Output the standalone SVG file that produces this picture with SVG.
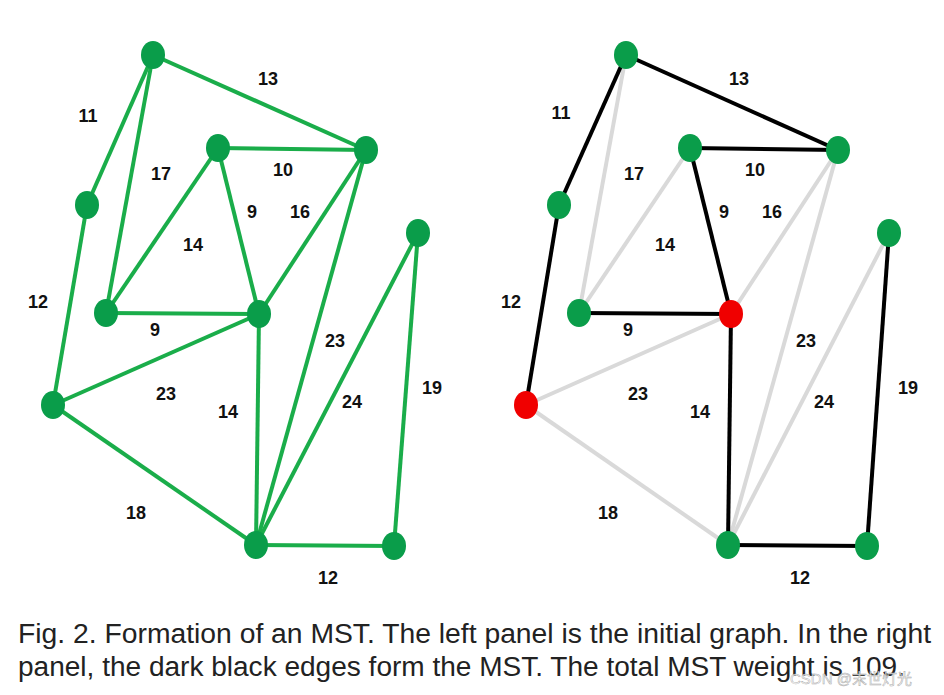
<svg xmlns="http://www.w3.org/2000/svg" width="944" height="695" viewBox="0 0 944 695">
<style>
.g{stroke:#1aad4a;stroke-width:4;fill:none}
.k{stroke:#000;stroke-width:4;fill:none}
.l{stroke:#d9d9d9;stroke-width:4;fill:none}
.n{fill:#0a9d4a}
.r{fill:#f00000}
.t{font-family:"Liberation Sans",Arial,sans-serif;font-weight:bold;font-size:18px;fill:#111;text-anchor:middle}
.c{font-family:"Liberation Sans",Arial,sans-serif;font-size:27px;fill:#222}
</style>
<rect width="944" height="695" fill="#fff"/>
<g id="connectors">
<g class="g">
<line x1="153" y1="55" x2="87" y2="205"/><line x1="153" y1="55" x2="366" y2="150"/><line x1="153" y1="55" x2="106" y2="313"/>
<line x1="218" y1="148" x2="366" y2="150"/><line x1="218" y1="148" x2="106" y2="313"/><line x1="218" y1="148" x2="259" y2="314"/>
<line x1="259" y1="314" x2="366" y2="150"/><line x1="106" y1="313" x2="259" y2="314"/><line x1="87" y1="205" x2="53" y2="405"/>
<line x1="53" y1="405" x2="259" y2="314"/><line x1="259" y1="314" x2="256" y2="545"/><line x1="53" y1="405" x2="256" y2="545"/>
<line x1="366" y1="150" x2="256" y2="545"/><line x1="418" y1="233" x2="256" y2="545"/><line x1="418" y1="233" x2="394" y2="546"/>
<line x1="256" y1="545" x2="394" y2="546"/>
</g>
<g class="l">
<line x1="626" y1="55" x2="579" y2="313"/><line x1="690" y1="148" x2="579" y2="313"/><line x1="731" y1="314" x2="838" y2="150"/>
<line x1="526" y1="405" x2="731" y2="314"/><line x1="526" y1="405" x2="728" y2="545"/><line x1="838" y1="150" x2="728" y2="545"/>
<line x1="889" y1="233" x2="728" y2="545"/>
</g>
<g class="k">
<line x1="626" y1="55" x2="559" y2="205"/><line x1="626" y1="55" x2="838" y2="150"/><line x1="690" y1="148" x2="838" y2="150"/>
<line x1="690" y1="148" x2="731" y2="314"/><line x1="579" y1="313" x2="731" y2="314"/><line x1="559" y1="205" x2="526" y2="405"/>
<line x1="731" y1="314" x2="728" y2="545"/><line x1="728" y1="545" x2="867" y2="546"/><line x1="889" y1="233" x2="867" y2="546"/>
</g>
</g>
<g id="left-nodes" class="n">
<ellipse id="LA" cx="153" cy="55" rx="12" ry="14"/><ellipse id="LB" cx="87" cy="205" rx="12" ry="14"/>
<ellipse id="LC" cx="218" cy="148" rx="12" ry="14"/><ellipse id="LD" cx="366" cy="150" rx="12" ry="14"/>
<ellipse id="LE" cx="106" cy="313" rx="12" ry="14"/><ellipse id="LF" cx="259" cy="314" rx="12" ry="14"/>
<ellipse id="LG" cx="418" cy="233" rx="12" ry="14"/><ellipse id="LH" cx="53" cy="405" rx="12" ry="14"/>
<ellipse id="LI" cx="256" cy="545" rx="12" ry="14"/><ellipse id="LJ" cx="394" cy="546" rx="12" ry="14"/>
</g>
<g id="right-nodes" class="n">
<ellipse id="RA" cx="626" cy="55" rx="12" ry="14"/><ellipse id="RB" cx="559" cy="205" rx="12" ry="14"/>
<ellipse id="RC" cx="690" cy="148" rx="12" ry="14"/><ellipse id="RD" cx="838" cy="150" rx="12" ry="14"/>
<ellipse id="RE" cx="579" cy="313" rx="12" ry="14"/><ellipse id="RF" class="r" cx="731" cy="314" rx="12" ry="14"/>
<ellipse id="RG" cx="889" cy="233" rx="12" ry="14"/><ellipse id="RH" class="r" cx="526" cy="405" rx="12" ry="14"/>
<ellipse id="RI" cx="728" cy="545" rx="12" ry="14"/><ellipse id="RJ" cx="867" cy="546" rx="12" ry="14"/>
</g>
<g id="labels" class="t">
<text x="88" y="122">11</text><text x="268" y="85">13</text><text x="161" y="180">17</text><text x="283" y="176">10</text>
<text x="252" y="218">9</text><text x="300" y="218">16</text><text x="193" y="251">14</text><text x="38" y="308">12</text>
<text x="155" y="336">9</text><text x="335" y="347">23</text><text x="166" y="400">23</text><text x="228" y="418">14</text>
<text x="352" y="408">24</text><text x="432" y="394">19</text><text x="136" y="519">18</text><text x="328" y="584">12</text>
<text x="561" y="119">11</text><text x="739" y="85">13</text><text x="634" y="180">17</text><text x="755" y="176">10</text>
<text x="724" y="218">9</text><text x="772" y="218">16</text><text x="665" y="251">14</text><text x="511" y="308">12</text>
<text x="628" y="336">9</text><text x="806" y="347">23</text><text x="638" y="400">23</text><text x="700" y="418">14</text>
<text x="824" y="408">24</text><text x="908" y="394">19</text><text x="608" y="519">18</text><text x="800" y="584">12</text>
</g>
<g id="caption" class="c">
<text x="18" y="643" textLength="913" lengthAdjust="spacingAndGlyphs">Fig. 2. Formation of an MST. The left panel is the initial graph. In the right</text>
<text x="18" y="676" textLength="887" lengthAdjust="spacingAndGlyphs">panel, the dark black edges form the MST. The total MST weight is 109.</text>
</g>
<text x="790" y="684" font-family="'Liberation Sans','Noto Sans CJK SC',sans-serif" font-size="15" fill="#fff" fill-opacity="0.8" stroke="#aaa" stroke-width="0.5">CSDN @末世灯光</text>
</svg>
